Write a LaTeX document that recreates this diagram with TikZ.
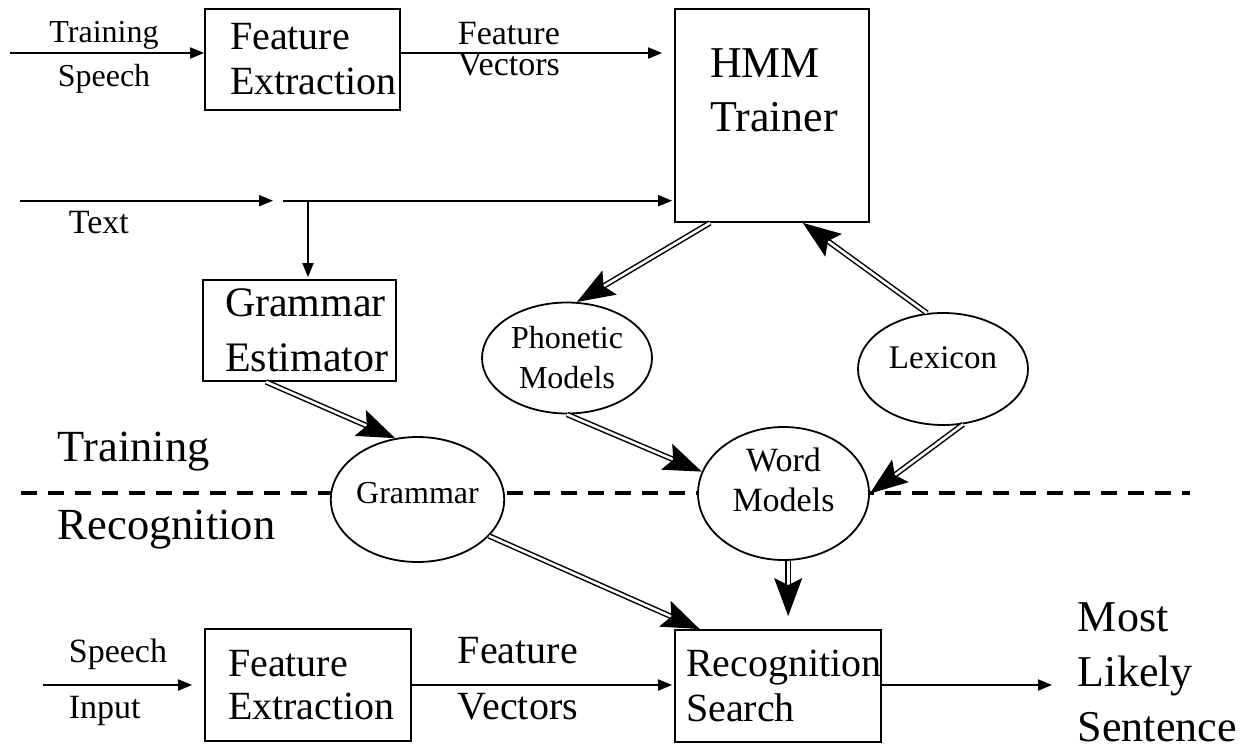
\documentclass[tikz,border=0pt]{standalone}
\usepackage{fontspec}
\setmainfont{Liberation Serif}
\usetikzlibrary{arrows.meta,shapes.geometric}

\begin{document}
\begin{tikzpicture}[x=1pt, y=-1pt, line width=1.8pt, line join=miter,
    fs/.style 2 args={font=\fontsize{#1}{#2}\selectfont},
    box/.style={draw, rectangle, align=left, inner ysep=0pt},
    oval/.style={draw, ellipse, fill=white, inner sep=0pt, align=center},
    lbl/.style={inner sep=0pt},
    thin/.style={-{Triangle[length=14pt,width=11pt]}},
    dbl/.style={double, double distance=2.6pt, line width=1.5pt,
                -{Stealth[length=38pt,width=28pt,inset=7pt]}},
    sep/.style={line width=3.3pt, dash pattern=on 16pt off 11pt}]

  %% ════ 训练 / 识别 分界虚线（先画，椭圆白底盖住）════
  \draw[sep] (21,493) -- (1190,493);
  % 多行 align 节点的 base = 最后一行基线
  \node[lbl, fs={44.5}{78}, anchor=base west, align=left] (trainlbl) at (57,539) {Training\\Recognition};

  %% ════ 方框 ════
  \node[box, fs={40}{45}, text width=145pt, inner xsep=25pt, minimum height=101pt] (topfe) at (302.5,59.5) {Feature\\Extraction};
  \node[box, fs={44}{54}, text width=124pt, inner xsep=35pt, minimum height=213pt, text depth=105pt] (hmm) at (772,115.5) {HMM\\Trainer};
  \node[box, fs={42}{55}, text width=149pt, inner xsep=22pt, minimum height=101pt] (gest) at (299.5,330.5) {Grammar\\Estimator};
  \node[box, fs={40}{43}, text width=160pt, inner xsep=23pt, minimum height=112pt] (botfe) at (308,685) {Feature\\Extraction};
  \node[box, fs={40}{45}, text width=184pt, inner xsep=11pt, minimum height=112pt] (recog) at (778,686) {Recognition\\Search};

  %% ════ 椭圆 ════
  \node[oval, fs={32}{40}, minimum width=170pt, minimum height=111pt] (phon) at (567,358) {Phonetic\\Models};
  \node[oval, fs={33}{40}, minimum width=170pt, minimum height=112pt, text depth=22pt] (lex) at (943,369) {Lexicon};
  \node[oval, fs={32}{40}, minimum width=171pt, minimum height=125pt, text depth=14pt] (gram) at (417.5,499.5) {Grammar};
  \node[oval, fs={34}{40}, minimum width=171pt, minimum height=133pt, text depth=27pt] (word) at (783.5,493.5) {Word\\Models};

  %% ════ 标签 ════
  \node[lbl, fs={32}{44}, anchor=base, align=center] (trsp) at (104,87) {Training\\Speech};
  \node[lbl, fs={34}{32}, anchor=base west, align=left] (fvtop) at (457,76) {Feature\\Vectors};
  \node[lbl, fs={34}{40}, anchor=base west] (txt) at (68,233) {Text};
  \node[lbl, fs={34}{56}, anchor=base west, align=left] (spin) at (68,718) {Speech\\Input};
  \node[lbl, fs={40}{56}, anchor=base west, align=left] (fvbot) at (457,719) {Feature\\Vectors};
  \node[lbl, fs={44}{55}, anchor=base west, align=left] (mls) at (1077,741) {Most\\Likely\\Sentence};

  %% ════ 细箭头 ════
  \coordinate (tsin) at (10,53);
  \coordinate (txin) at (20,200.7);
  \coordinate (txend) at (273,200.7);
  \coordinate (txsplit) at (283,200.7);
  \coordinate (txdown) at (308,200.7);
  \coordinate (spstart) at (43,685);
  \coordinate (sent) at (1052,685);
  \draw[thin] (tsin) -- (tsin -| topfe.west);
  \draw[thin, shorten >=12pt] (topfe.east |- tsin) -- (hmm.west |- tsin);
  \draw[thin] (txin) -- (txend);
  \draw[thin, shorten >=2pt] (txsplit) -- (hmm.west |- txsplit);
  \draw[thin, shorten >=2pt] (txdown) -- (txdown |- gest.north);
  \draw[thin, shorten >=12pt] (spstart) -- (spstart -| botfe.west);
  \draw[thin, shorten >=2pt] (botfe.east |- spstart) -- (recog.west |- spstart);
  \draw[thin] (recog.east |- sent) -- (sent);

  %% ════ 双线箭头 ════
  \draw[dbl] (hmm.240) -- (phon.80);
  \draw[dbl] (lex.106) -- (hmm.286);
  \draw[dbl] (lex.290) -- (word.east);
  \draw[dbl] (phon.south) -- (word.165);
  \draw[dbl] (gest.237) -- (gram.110);
  \draw[dbl] (gram.333) -- (recog.144);
  \draw[dbl, shorten >=13pt] (word.274) -- (word.274 |- recog.north);

  % 画布固定为 1254 x 752
  \pgfresetboundingbox
  \path[use as bounding box] (0,0) rectangle (1254,752);
\end{tikzpicture}
\end{document}
